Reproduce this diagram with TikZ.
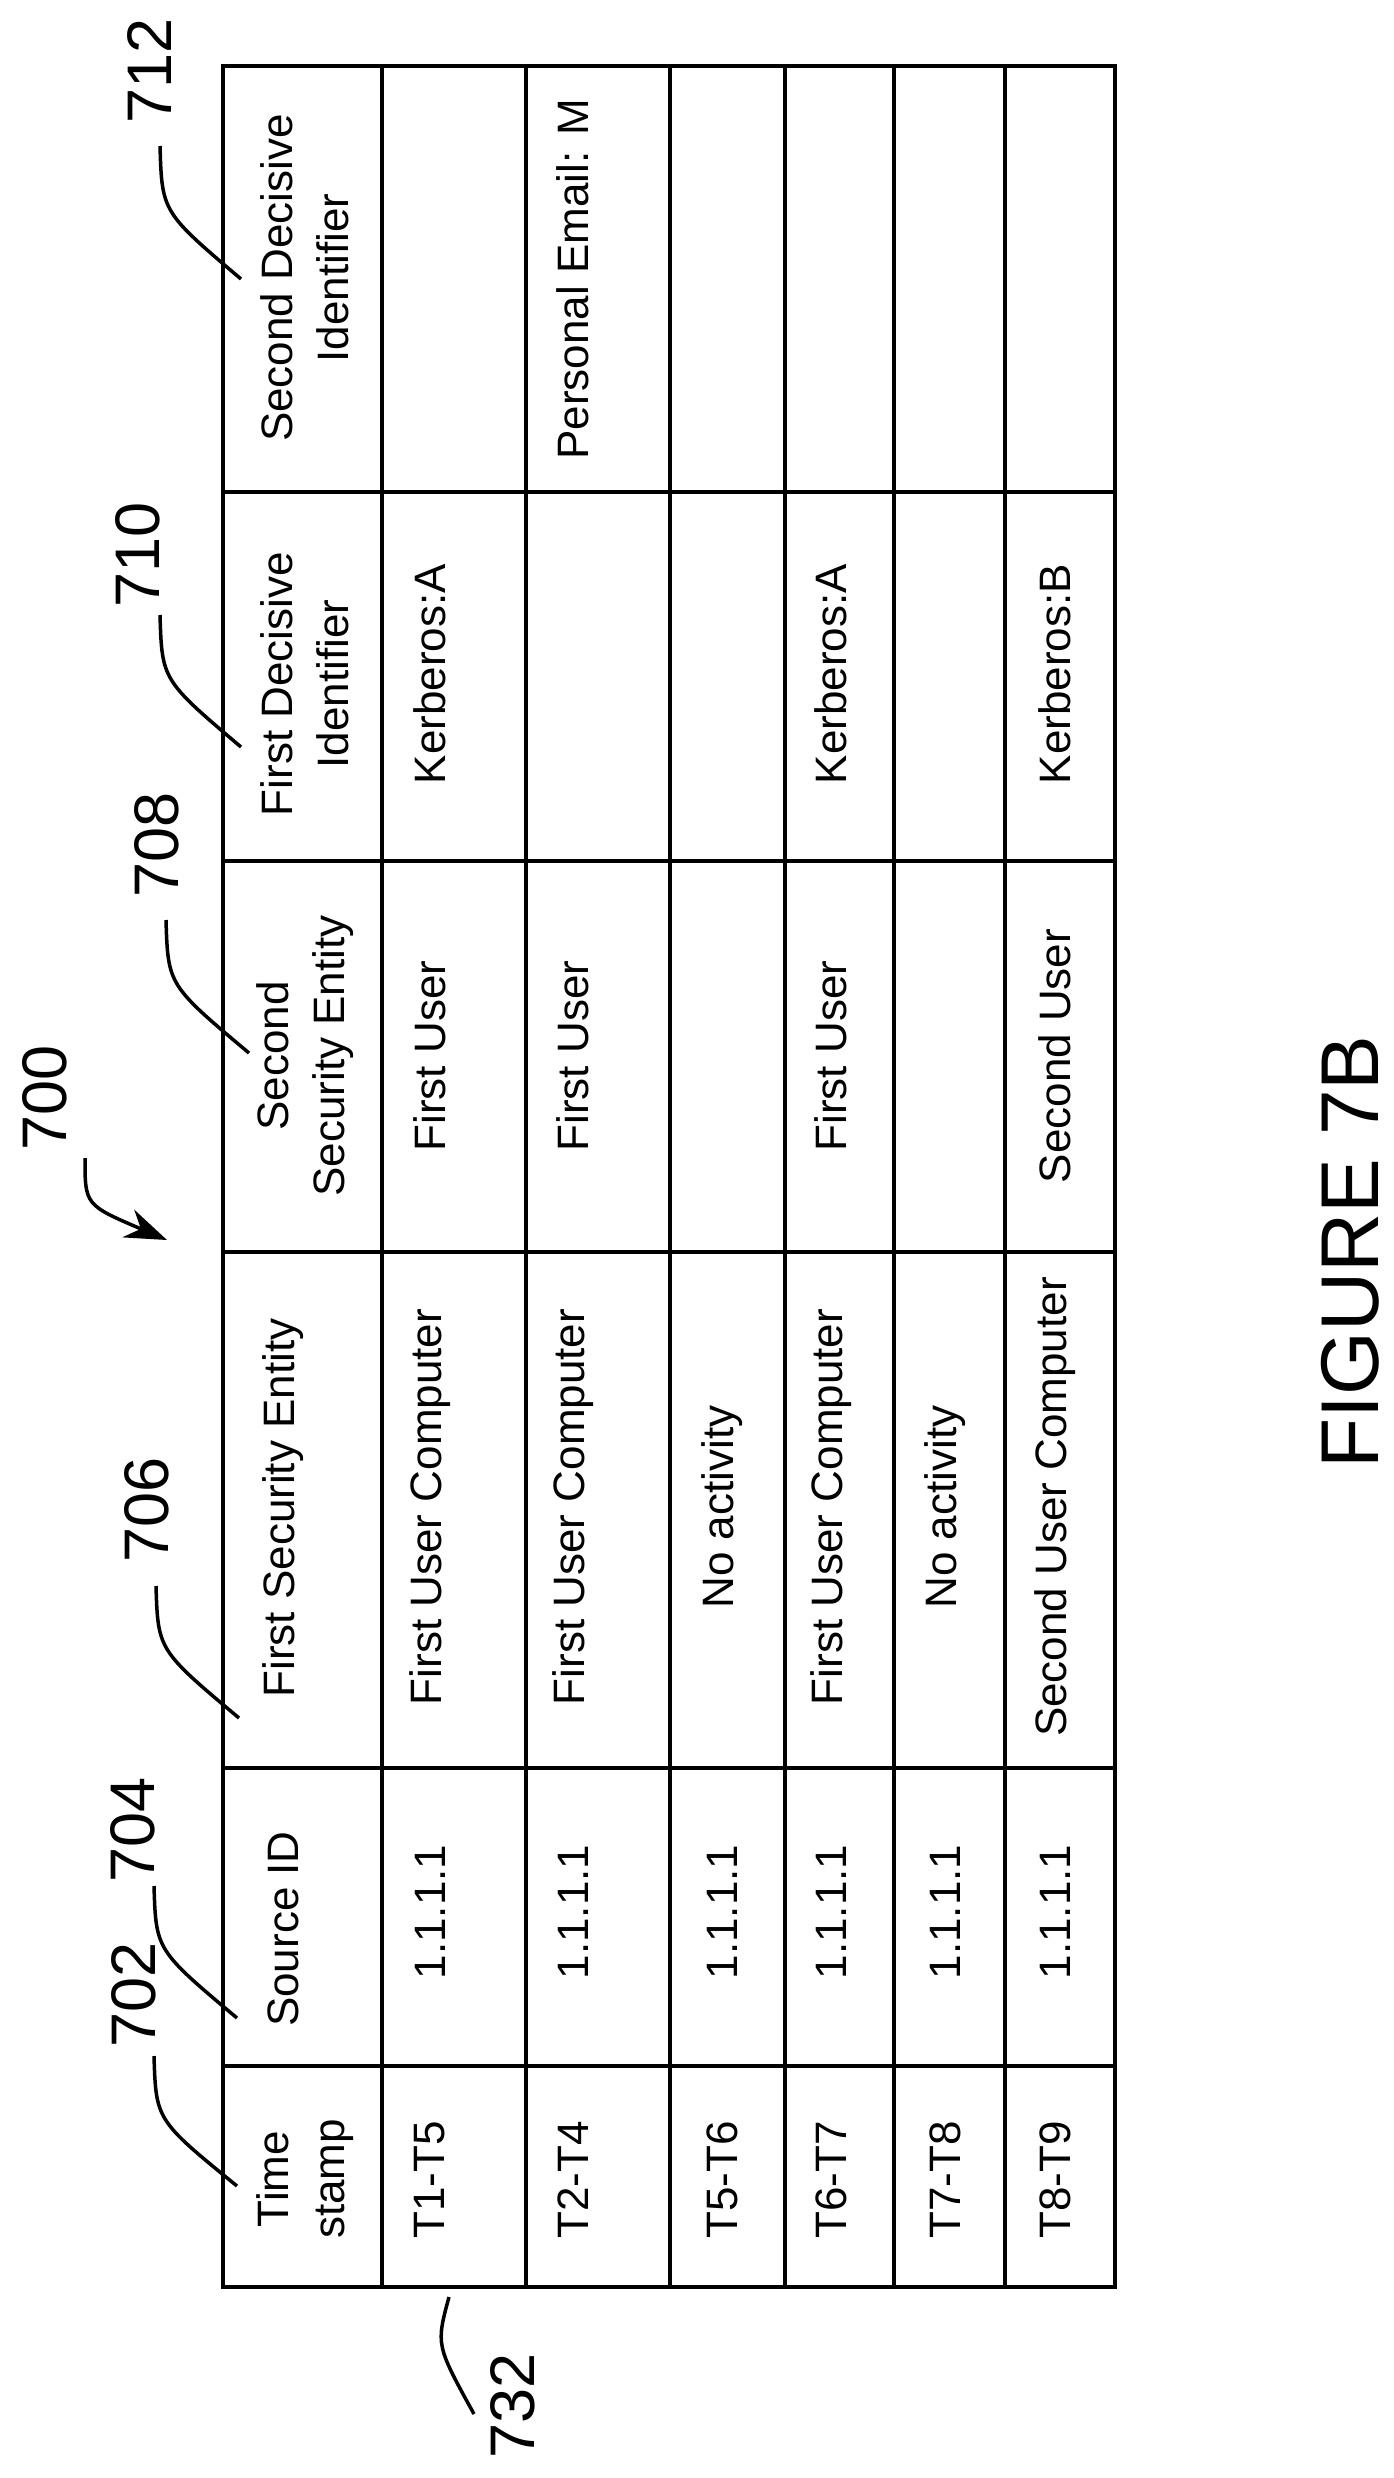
\documentclass[tikz,border=0pt]{standalone}
\usepackage{fontspec}
\setmainfont{Liberation Sans}
\usetikzlibrary{arrows.meta}
\begin{document}
\begin{tikzpicture}[x=1pt,y=-1pt,
  txt/.style={rotate=90,font=\fontsize{44}{56}\selectfont,align=center,inner sep=0pt},
  lbl/.style={rotate=90,font=\fontsize{63}{66}\selectfont,inner sep=0pt},
  lead/.style={line width=3.5pt},
  grid/.style={line width=4.5pt}]
\useasboundingbox (0,0) rectangle (1394,2478);
% grid
\draw[grid] (223,66) rectangle (1115,2287);
\foreach \x in {382,526,670,785,894,1005} \draw[grid] (\x,66) -- (\x,2287);
\foreach \y in {492,861,1252,1768,2066} \draw[grid] (223,\y) -- (1115,\y);
% headers
\node[txt] (h1) at (305,2179) {Time\\stamp};
\node[txt] (h2) at (283,1929) {Source ID};
\node[txt] (h3) at (283,1508) {First Security Entity};
\node[txt] (h4) at (305,1056) {Second\\Security Entity};
\node[txt] (h5) at (305,684) {First Decisive\\Identifier};
\node[txt] (h6) at (305,278) {Second Decisive\\Identifier};
% rows
\foreach \r/\x/\t/\s/\f/\g/\k/\p in {
 1/430/T1-T5/1.1.1.1/First User Computer/First User/Kerberos:A/,
 2/573/T2-T4/1.1.1.1/First User Computer/First User//Personal Email: M,
 3/722/T5-T6/1.1.1.1/No activity///,
 4/831/T6-T7/1.1.1.1/First User Computer/First User/Kerberos:A/,
 5/945/T7-T8/1.1.1.1/No activity///,
 6/1055/T8-T9/1.1.1.1/Second User Computer/Second User/Kerberos:B/}{
 \node[txt] (t\r) at (\x,2180) {\t};
 \node[txt] (s\r) at (\x,1912) {\s};
 \node[txt] (f\r) at (\x,1507) {\f};
 \node[txt] (g\r) at (\x,1056) {\g};
 \node[txt] (k\r) at (\x,674) {\k};
 \node[txt] (p\r) at (\x,279) {\p};
}
% reference labels
\node[lbl] (l702) at (134,1995) {702};
\node[lbl] (l704) at (133,1830) {704};
\node[lbl] (l706) at (147,1510) {706};
\node[lbl] (l708) at (157,845) {708};
\node[lbl] (l710) at (138,555) {710};
\node[lbl] (l712) at (150,71) {712};
\node[lbl] (l700) at (45,1098) {700};
\node[lbl] (l732) at (513,2406) {732};
\coordinate (e702) at (237,2186);
\coordinate (e704) at (237,2018);
\coordinate (e706) at (239,1718);
\coordinate (e708) at (249,1053);
\coordinate (e710) at (241,747);
\coordinate (e712) at (241,279);
\coordinate (e700) at (167,1240);
\coordinate (e732) at (474,2414);
\draw[lead] (154,2056) .. controls (156,2120) .. (e702);
\draw[lead] (154,1886) .. controls (156,1950) .. (e704);
\draw[lead] (156,1586) .. controls (158,1650) .. (e706);
\draw[lead] (166,920) .. controls (168,985) .. (e708);
\draw[lead] (160,615) .. controls (162,680) .. (e710);
\draw[lead] (160,146) .. controls (162,212) .. (e712);
\draw[lead,-{Stealth[length=42pt,width=30pt]}] (85,1158) .. controls (85,1205) .. (e700);
\draw[lead] (449,2297) .. controls (436,2345) .. (e732);
\node[rotate=90,font=\fontsize{82}{84}\selectfont,inner sep=0pt] (fig) at (1350,1252) {FIGURE 7B};
\end{tikzpicture}
\end{document}
